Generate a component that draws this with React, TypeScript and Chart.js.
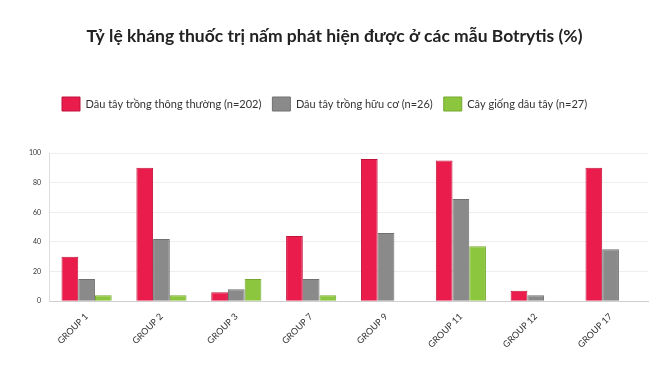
import React, { useEffect, useRef } from "react";
import { Chart, registerables } from "chart.js";

Chart.register(...registerables);

const categories = ["GROUP 1", "GROUP 2", "GROUP 3", "GROUP 7", "GROUP 9", "GROUP 11", "GROUP 12", "GROUP 17"];
const conventional = [30, 90, 6, 44, 96, 95, 7, 90];
const organic = [15, 42, 8, 15, 46, 69, 4, 35];
const seedlings = [4, 4, 15, 4, 0, 37, 0, 0];
const seriesLabels = [
  "Dâu tây trồng thông thường (n=202)",
  "Dâu tây trồng hữu cơ (n=26)",
  "Cây giống dâu tây (n=27)",
];
const yTicks = [0, 20, 40, 60, 80, 100];
const titleText = "Tỷ lệ kháng thuốc trị nấm phát hiện được ở các mẫu Botrytis (%)";

const shiftPlugin = {
  id: "shiftBoxes",
  afterLayout(chart: any) {
    const lg = chart.legend;
    if (lg) {
      lg.left += 30;
      lg.right += 30;
      lg.top -= 32;
      lg.bottom -= 32;
    }
  },
};

export default function App() {
  const ref = useRef<HTMLCanvasElement | null>(null);
  useEffect(() => {
    if (!ref.current) return;
    const font = "Lato, 'Open Sans', sans-serif";
    const chart = new Chart(ref.current, {
      type: "bar",
      data: {
        labels: categories,
        datasets: [
          { label: seriesLabels[0], data: conventional, backgroundColor: "#E91C4B", borderColor: "#C2123C", borderWidth: 1 },
          { label: seriesLabels[1], data: organic, backgroundColor: "#8A8A8A", borderColor: "#707070", borderWidth: 1 },
          { label: seriesLabels[2], data: seedlings, backgroundColor: "#8CC63F", borderColor: "#74A82E", borderWidth: 1 },
        ],
      },
      options: {
        animation: false,
        responsive: true,
        maintainAspectRatio: false,
        layout: { padding: { left: 21, right: 22, top: 0, bottom: 13 } },
        datasets: { bar: { categoryPercentage: 0.67, barPercentage: 1.0 } } as any,
        plugins: {
          title: {
            display: true,
            text: titleText,
            color: "#222",
            font: { family: font, size: 17.5, weight: "bold" },
            padding: { top: 26, bottom: 71 },
          },
          legend: {
            position: "top",
            align: "start",
            labels: {
              boxWidth: 18,
              boxHeight: 14,
              padding: 11,
              color: "#333",
              font: { family: font, size: 11 },
            },
          },
          tooltip: { enabled: false },
        },
        scales: {
          x: {
            grid: { display: false, drawTicks: false },
            border: { color: "#cfcfcf" },
            ticks: {
              minRotation: 45,
              maxRotation: 45,
              color: "#333",
              padding: 10,
              font: { family: font, size: 9 },
            },
          },
          y: {
            min: 0,
            max: 100,
            afterBuildTicks: (axis: any) => {
              axis.ticks = yTicks.map((v) => ({ value: v }));
            },
            grid: { color: "#eeeeee", drawTicks: false },
            border: { color: "#dddddd" },
            ticks: {
              color: "#333",
              padding: 8,
              font: { family: font, size: 7 },
            },
          },
        },
      },
      plugins: [shiftPlugin],
    } as any);
    return () => chart.destroy();
  }, []);
  return (
    <div style={{ position: "fixed", left: 0, top: 0, width: 670, height: 373, background: "#fff" }}>
      <canvas ref={ref} />
    </div>
  );
}
